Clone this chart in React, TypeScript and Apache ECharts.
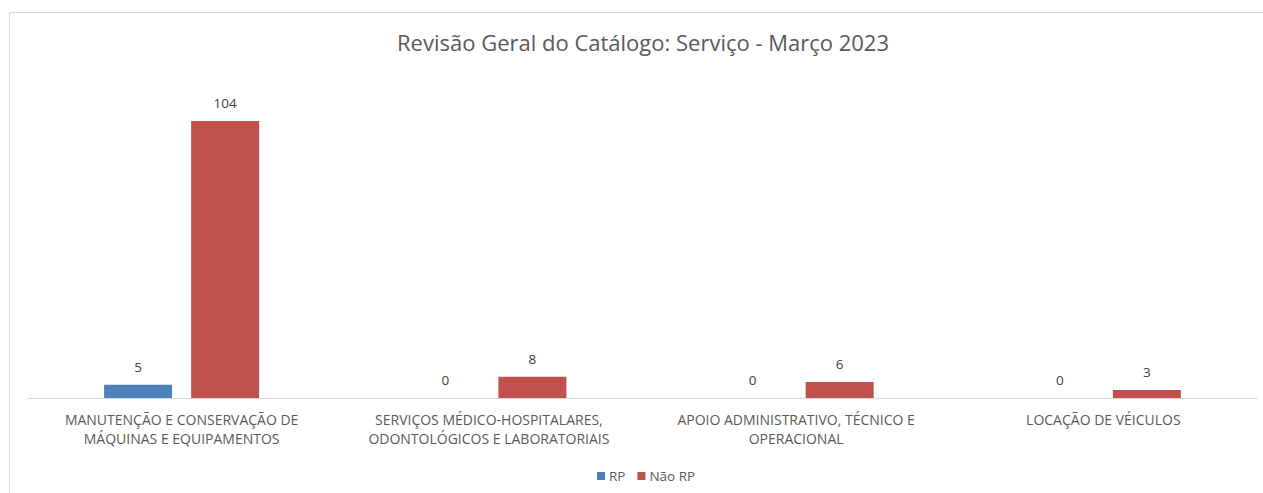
import React, { useEffect, useRef } from "react";
import * as echarts from "echarts";

const categories = [
  "MANUTENÇÃO E CONSERVAÇÃO DE\nMÁQUINAS E EQUIPAMENTOS",
  "SERVIÇOS MÉDICO-HOSPITALARES,\nODONTOLÓGICOS E LABORATORIAIS",
  "APOIO ADMINISTRATIVO, TÉCNICO E\nOPERACIONAL",
  "LOCAÇÃO DE VÉICULOS",
];
const rpValues = [5, 0, 0, 0];
const naoRpValues = [104, 8, 6, 3];
const seriesNames = ["RP", "Não RP"];

export default function App() {
  const ref = useRef<HTMLDivElement>(null);
  useEffect(() => {
    if (!ref.current) return;
    const chart = echarts.init(ref.current, undefined, { renderer: "svg" });
    const font = "'Open Sans', 'Noto Sans', sans-serif";
    const label = {
      show: true,
      position: "top",
      distance: 11,
      color: "#404040",
      fontSize: 13.5,
      fontFamily: font,
    };
    chart.setOption({
      animation: false,
      backgroundColor: "#ffffff",
      title: {
        text: "Revisão Geral do Catálogo: Serviço - Março 2023",
        left: 392,
        top: 26,
        textStyle: { color: "#595959", fontSize: 22, fontWeight: "normal", fontFamily: font },
      },
      graphic: [
        {
          type: "rect",
          shape: { x: 9.5, y: 12.5, width: 1270, height: 500 },
          style: { fill: "none", stroke: "#d9d9d9", lineWidth: 1 },
          silent: true,
        },
      ],
      legend: {
        data: seriesNames,
        bottom: 5,
        left: 592,
        itemWidth: 8,
        itemHeight: 8,
        itemGap: 12,
        icon: "rect",
        textStyle: { color: "#595959", fontSize: 13.5, fontFamily: font, padding: [0, 0, 0, -1] },
      },
      grid: { left: 28, right: 6, top: 78.4, bottom: 95, containLabel: false },
      xAxis: {
        type: "category",
        data: categories,
        axisLine: { lineStyle: { color: "#d9d9d9", width: 1 } },
        axisTick: { show: false },
        axisLabel: {
          color: "#595959",
          fontSize: 14,
          fontFamily: font,
          lineHeight: 19,
          margin: 12,
          interval: 0,
        },
      },
      yAxis: {
        type: "value",
        min: 0,
        max: 120,
        interval: 20,
        show: false,
        splitLine: { show: false },
      },
      series: [
        {
          name: seriesNames[0],
          type: "bar",
          data: rpValues,
          barWidth: 68,
          barGap: "28%",
          itemStyle: { color: "#4f81bd" },
          label,
        },
        {
          name: seriesNames[1],
          type: "bar",
          data: naoRpValues,
          barWidth: 68,
          barGap: "28%",
          itemStyle: { color: "#c0504d" },
          label,
        },
      ],
    });
    return () => chart.dispose();
  }, []);
  return (
    <div
      ref={ref}
      style={{ position: "fixed", left: 0, top: 0, width: 1263, height: 493 }}
    />
  );
}
